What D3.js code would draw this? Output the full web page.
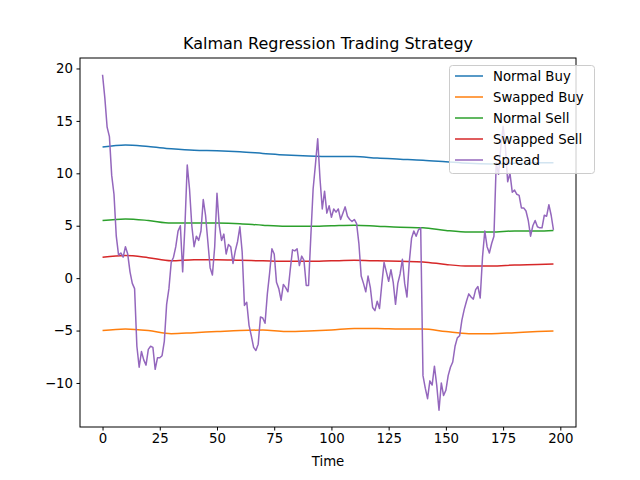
<!DOCTYPE html>
<html><head><meta charset="utf-8">
<script src="https://cdn.jsdelivr.net/npm/d3@7"></script>
<style>body{margin:0;background:#fff}text{font-family:"DejaVu Sans",sans-serif}</style>
</head><body><svg id="c" width="640" height="480"></svg>
<script>
const knotIdx=[0,10,20,30,40,50,60,70,80,90,100,110,120,130,140,150,160,170,180,190,197];
const normalBuy=[12.5,12.7,12.55,12.35,12.2,12.15,12.05,11.9,11.75,11.65,11.6,11.6,11.45,11.35,11.25,11.1,10.95,10.9,10.95,11.0,11.0];
const swappedBuy=[-5.0,-4.85,-5.0,-5.3,-5.2,-5.1,-5.0,-4.95,-5.1,-5.05,-4.95,-4.8,-4.8,-4.85,-4.85,-5.1,-5.3,-5.3,-5.2,-5.1,-5.05];
const normalSell=[5.5,5.65,5.5,5.25,5.25,5.25,5.2,5.05,4.95,4.95,5.0,5.05,4.95,4.85,4.8,4.55,4.4,4.4,4.5,4.5,4.55];
const swappedSell=[2.0,2.15,1.95,1.65,1.75,1.75,1.7,1.65,1.6,1.6,1.65,1.7,1.65,1.6,1.55,1.3,1.15,1.15,1.25,1.3,1.35];
const spread=[19.4,17.2,14.4,13.5,9.8,8,4,2.2,2.4,2,3,2.3,0.6,-0.5,-1,-6.5,-8.5,-7,-7.8,-8.3,-6.8,-6.5,-6.6,-8.7,-7.6,-7.6,-7.4,-6,-2.5,-1,1.5,2,3,4.5,5,0.6,5,10.8,8.5,5,3,4,3.6,4.5,7.5,6,3.5,1,0.3,3,8.1,5,3.6,4.2,2.3,3.2,3.0,1.4,2.6,3.5,4.9,2.5,-2.6,-2.3,-4.5,-5.5,-6.6,-6.9,-6.3,-3.7,-3.8,-4.3,-1.5,0.5,2.8,2.3,-0.4,-1.0,-2.1,-0.6,-0.9,-1.3,0.8,2.7,2.6,2.8,1.2,2.1,1.7,-0.7,-0.7,4,8.5,10.8,13.3,9.5,6.6,8.3,6.2,6.9,5.8,6.6,6.3,6.6,5.6,6.2,6.8,5.9,5.6,5.4,5.6,5.2,3.3,0.2,-0.5,-1.3,0.2,-0.9,-2.8,-3.1,-2.2,-2.9,-0.6,1.5,0.6,-0.3,0.8,-0.4,-2.5,-0.5,0.4,1.8,-0.5,-1.8,1.5,3.8,4.5,4,4.6,4.8,-9.3,-10.5,-11.5,-9.8,-10.2,-8.4,-10.2,-12.6,-10,-11.2,-10.7,-9.3,-8.5,-8,-6.5,-5.7,-5.5,-4,-3,-2.2,-1.5,-1.8,-2,-1.1,-0.8,-1.9,2,4.5,3,2.4,3.3,4,11,9.9,12.5,14.5,12.5,9.2,10,8.2,8.4,8,7.9,6.7,6.7,6.4,5.5,4,5,5.5,4.9,4.8,4.8,6,5.9,7,6,4.6];
const xTicks=[0,25,50,75,100,125,150,175,200];
const yTicks=[-10,-5,0,5,10,15,20];
const names=["Normal Buy","Swapped Buy","Normal Sell","Swapped Sell","Spread"];
const colors=["#1f77b4","#ff7f0e","#2ca02c","#d62728","#9467bd"];

const svg=d3.select("#c");
const L=80,R=576,T=58,B=427;
const x=d3.scaleLinear().domain([-9.85,206.85]).range([L,R]);
const y=d3.scaleLinear().domain([-14.2,21.0]).range([B,T]);
const line=d3.line().x(d=>x(d[0])).y(d=>y(d[1]));
const smooth=d3.line().x(d=>x(d[0])).y(d=>y(d[1])).curve(d3.curveMonotoneX);
const g=svg.append("g");
[normalBuy,swappedBuy,normalSell,swappedSell].forEach((s,i)=>{
  g.append("path").attr("d",smooth(s.map((v,j)=>[knotIdx[j],v]))).attr("fill","none").attr("stroke",colors[i]).attr("stroke-width",1.5);
});
g.append("path").attr("d",line(spread.map((v,j)=>[j,v]))).attr("fill","none").attr("stroke",colors[4]).attr("stroke-width",1.5).attr("stroke-linejoin","round");

const ax=svg.append("g").attr("transform",`translate(0,${B})`).call(d3.axisBottom(x).tickValues(xTicks).tickSize(3.5).tickPadding(3.5));
const ay=svg.append("g").attr("transform",`translate(${L},0)`).call(d3.axisLeft(y).tickValues(yTicks).tickSize(3.5).tickPadding(3.5));
[ax,ay].forEach(a=>{a.select(".domain").remove();a.selectAll("text").attr("font-size","13.3px").attr("fill","#000").style("font-family","DejaVu Sans");a.selectAll("line").attr("stroke","#000");});
svg.append("rect").attr("x",L).attr("y",T).attr("width",R-L).attr("height",B-T).attr("fill","none").attr("stroke","#000").attr("stroke-width",1);
svg.append("text").attr("x",(L+R)/2).attr("y",49).attr("text-anchor","middle").attr("font-size","16px").text("Kalman Regression Trading Strategy");
svg.append("text").attr("x",(L+R)/2).attr("y",466).attr("text-anchor","middle").attr("font-size","13.3px").text("Time");

const lg=svg.append("g");
lg.append("rect").attr("x",449.5).attr("y",65.5).attr("width",145).attr("height",108).attr("rx",3).attr("fill","rgba(255,255,255,0.8)").attr("stroke","#ccc");
names.forEach((n,i)=>{
  const yy=76+i*21;
  lg.append("line").attr("x1",455).attr("x2",483).attr("y1",yy).attr("y2",yy).attr("stroke",colors[i]).attr("stroke-width",1.5);
  lg.append("text").attr("x",493).attr("y",yy+4.5).attr("font-size","13.3px").text(n);
});
</script></body></html>
